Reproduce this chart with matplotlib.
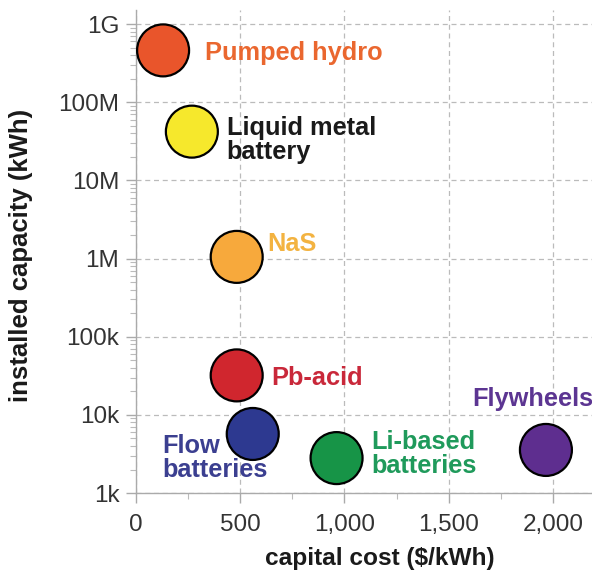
import matplotlib
matplotlib.use("Agg")
import matplotlib.pyplot as plt
import matplotlib.ticker as mticker

plt.rcParams['font.family'] = ['Liberation Sans', 'DejaVu Sans']

technologies = ["Pumped hydro", "Liquid metal\nbattery", "NaS", "Pb-acid",
                "Flow\nbatteries", "Li-based\nbatteries", "Flywheels"]
capital_cost = [130, 268, 483, 483, 560, 962, 1966]
installed_kwh = [4.6e8, 4.2e7, 1.05e6, 3.2e4, 5.7e3, 2.8e3, 3.56e3]
fill_colors = ["#E9552B", "#F6E82C", "#F7A93C", "#D0262E", "#2D3990", "#179447", "#5E2E8F"]
text_colors = ["#EA672F", "#1A1A1A", "#F3B341", "#C9283A", "#3B3F90", "#1F9A5B", "#5C3592"]
# label offsets in points from marker centre (style)
offsets = [(30, -2), (25, -6), (22, 9.5), (25, -2), (-65, -17), (25, 3), (-53, 37)]

x_ticks = [0, 500, 1000, 1500, 2000]
x_labels = ["0", "500", "1,000", "1,500", "2,000"]
y_ticks = [1e3, 1e4, 1e5, 1e6, 1e7, 1e8, 1e9]
y_labels = ["1k", "10k", "100k", "1M", "10M", "100M", "1G"]

fig = plt.figure(figsize=(5.92, 5.70), dpi=100)
ax = fig.add_axes([0.2297, 0.135, 0.7703, 0.847])

ax.set_yscale('log')
ax.set_xlim(0, 2187)
ax.set_ylim(1e3, 1.5e9)

ax.grid(True, which='major', linestyle=(0, (4, 3)), color='#bbbbbb', linewidth=0.9)
ax.set_axisbelow(True)

ax.scatter(capital_cost, installed_kwh, s=1400, c=fill_colors,
           edgecolors='black', linewidths=1.6, zorder=3, clip_on=False)

for name, x, y, col, off in zip(technologies, capital_cost, installed_kwh, text_colors, offsets):
    ax.annotate(name, (x, y), xytext=off, textcoords='offset points',
                ha='left', va='center', fontsize=18.3, fontweight='bold',
                color=col, linespacing=1.0, zorder=4)

ax.set_xticks(x_ticks)
ax.set_xticklabels(x_labels)
ax.xaxis.set_minor_locator(mticker.MultipleLocator(250))
ax.set_yticks(y_ticks)
ax.set_yticklabels(y_labels)
ax.yaxis.set_minor_locator(mticker.LogLocator(base=10, subs=range(2, 10), numticks=20))
ax.yaxis.set_minor_formatter(mticker.NullFormatter())

ax.tick_params(axis='both', which='major', direction='out', length=7, width=1,
               color='#aaaaaa', labelsize=17.5, labelcolor='#333333')
ax.tick_params(axis='x', which='major', pad=8)
ax.tick_params(axis='y', which='major', pad=5)
ax.tick_params(axis='both', which='minor', direction='out', length=4, width=0.8,
               color='#bbbbbb')

for s in ['top', 'right']:
    ax.spines[s].set_visible(False)
for s in ['left', 'bottom']:
    ax.spines[s].set_color('#aaaaaa')
    ax.spines[s].set_linewidth(1.0)

ax.set_xlabel("capital cost ($/kWh)", fontsize=17.6, fontweight='bold', color='#1a1a1a')
ax.set_ylabel("installed capacity (kWh)", fontsize=18.5, fontweight='bold', color='#1a1a1a')
ax.xaxis.set_label_coords(0.535, -0.112)
ax.yaxis.set_label_coords(-0.226, 0.493)

fig.savefig("out.png", dpi=100)
